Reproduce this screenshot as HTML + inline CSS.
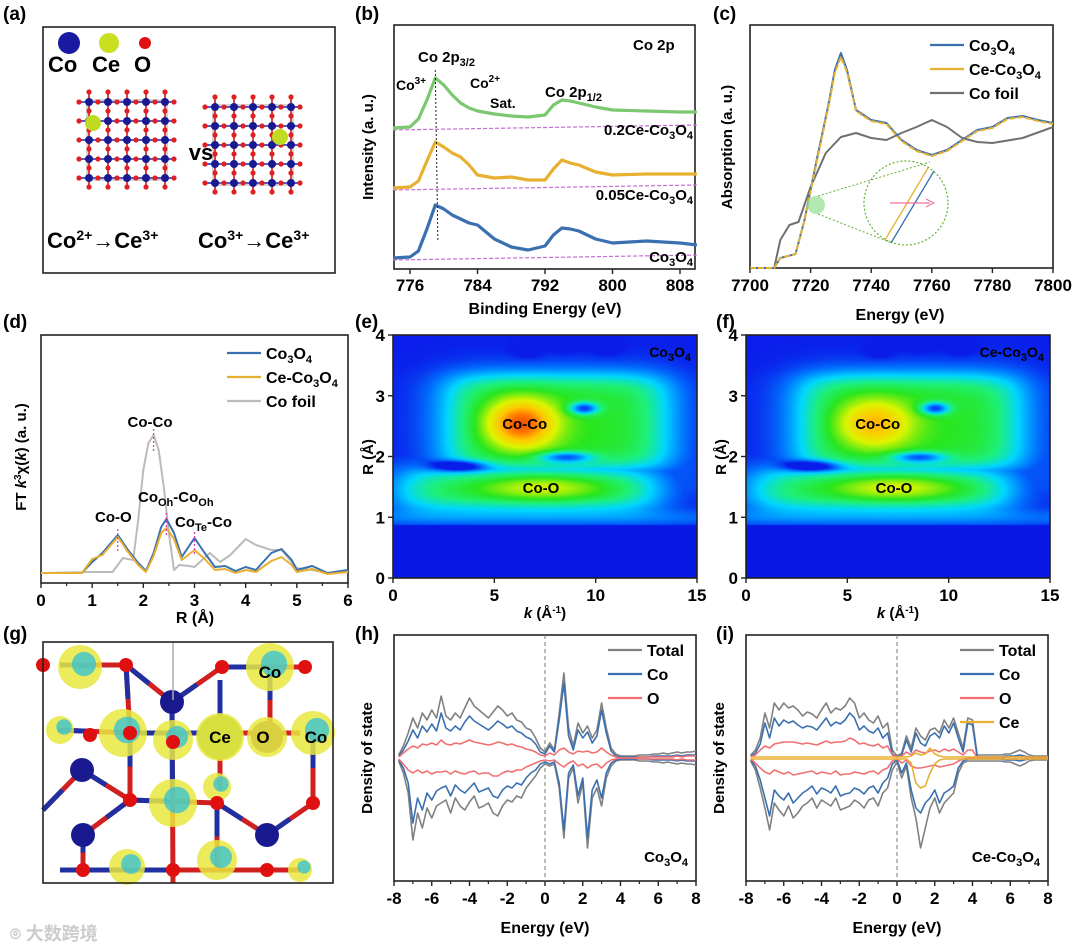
<!DOCTYPE html>
<html><head><meta charset="utf-8"><style>
body{margin:0;background:#fff;}
#wrap{position:relative;width:1080px;height:946px;overflow:hidden;font-family:"Liberation Sans",sans-serif;}
svg{position:absolute;left:0;top:0;}
canvas{position:absolute;}
text{font-family:"Liberation Sans","Noto Sans CJK SC",sans-serif;font-weight:bold;}
</style></head><body>
<div id="wrap">
<canvas id="hmE" width="304" height="243" style="left:393px;top:335px"></canvas>
<canvas id="hmF" width="304" height="243" style="left:746px;top:335px"></canvas>
<svg id="fig" width="1080" height="946" xmlns="http://www.w3.org/2000/svg"></svg>
</div>
<script>
// ---------- DATA ----------
const xpsE=[774,776,777,778,779,780,781,782,783,784,786,788,790,792,793,794,795,796,798,800,804,808,810];
const xpsCo3O4=[11,12,18,40,64,60,54,50,46,44,30,22,19,23,34,41,40,38,30,26,28,26,24];
const xpsCe005=[81,82,88,108,127,122,116,112,104,94,91,92,89,89,100,109,106,104,97,94,95,95,95];
const xpsCe02=[141,142,150,169,191,184,174,166,161,158,155,153,152,154,164,169,168,166,162,159,158,157,157];
const xanE=[7700,7708,7710,7715,7718,7722,7726,7728,7730,7732,7735,7740,7745,7750,7755,7760,7765,7770,7775,7780,7785,7790,7795,7800];
const xanCo3O4=[0,0,10,14,48,108,165,198,215,198,158,148,145,128,118,113,118,128,138,141,150,152,148,145];
const xanCe=[0,0,10,14,47,106,163,195,211,196,157,147,144,127,117,112,117,127,137,140,149,151,147,144];
const foilE=[7700,7708,7710,7713,7716,7720,7725,7730,7735,7740,7745,7750,7755,7760,7765,7770,7775,7780,7790,7800];
const xanFoil=[0,0,28,43,46,81,115,131,135,130,128,135,141,148,141,130,126,125,130,141];
const rBlue=[0,0.8,1.0,1.2,1.5,1.7,1.9,2.05,2.2,2.35,2.45,2.6,2.75,3.0,3.2,3.4,3.6,3.8,4.0,4.2,4.5,4.7,4.9,5.0,5.3,5.6,6];
const ftCo3O4=[10,10,21,30,48,33,20,12,30,56,64,50,26,45,30,16,17,12,16,13,30,34,23,13,17,10,13];
const ftCe=[10,10,24,28,46,31,18,11,27,50,55,44,23,33,24,13,14,10,13,11,22,26,18,11,14,9,11];
const rFoil=[0,1.0,1.4,1.6,1.8,1.9,2.0,2.1,2.2,2.3,2.4,2.5,2.6,2.7,2.9,3.0,3.3,3.5,3.7,4.0,4.2,4.5,4.7,5.0,5.3,5.6,6];
const ftFoil=[10,11,11,25,23,63,113,140,148,133,96,50,13,18,17,16,30,21,28,44,38,33,33,15,13,10,11];
// wavelet plateaus: [k0,k1,R0,R1,amp]; blobs: [k, R, sigmaK, sigmaR, amp]
const wtBoxE=[[2.6,13.5,1.8,3.35,0.38],[0.3,13,1.15,1.8,0.36],[13.5,15,1.3,3.3,0.12]];
const wtE=[[6.3,2.55,1.2,0.28,0.36],[7.3,1.5,2.2,0.16,0.17],[9.4,2.8,0.5,0.07,-0.35],[8.5,2.0,0.9,0.06,-0.28],[3.2,1.85,0.9,0.06,-0.3],[6.6,3.75,0.5,0.09,-0.06],[8.5,3.85,0.5,0.09,-0.06],[10.5,3.8,0.5,0.09,-0.06]];
const wtBoxF=[[2.6,13.5,1.8,3.35,0.38],[0.3,13,1.15,1.8,0.36],[13.5,15,1.3,3.3,0.12]];
const wtF=[[6.3,2.55,1.3,0.28,0.25],[7.3,1.5,2.2,0.16,0.18],[9.3,2.8,0.5,0.07,-0.35],[8.5,2.0,0.9,0.06,-0.28],[3.2,1.85,0.9,0.06,-0.3],[6.6,3.75,0.5,0.09,-0.06],[8.5,3.85,0.5,0.09,-0.06],[10.5,3.8,0.5,0.09,-0.06]];
const dosE=[-7.75,-7.5,-7.25,-7,-6.75,-6.5,-6.25,-6,-5.75,-5.5,-5.25,-5,-4.75,-4.5,-4.25,-4,-3.75,-3.5,-3.25,-3,-2.75,-2.5,-2.25,-2,-1.75,-1.5,-1.25,-1,-0.75,-0.5,-0.25,0,0.25,0.5,0.75,1,1.25,1.5,1.75,2,2.25,2.5,2.75,3,3.25,3.5,3.75,4,4.25,4.5,4.75,5,5.25,5.5,5.75,6,6.25,6.5,6.75,7,7.25,7.5,7.75,8];
const hTotUp=[3,12,25,40,30,45,38,48,40,62,42,38,45,40,50,60,52,48,44,40,46,52,48,42,45,38,36,30,28,20,10,6,15,8,45,85,30,12,35,25,32,20,28,55,30,10,4,2,2,2,2,3,3,3,4,4,5,4,5,6,5,6,6,7];
const hCoUp=[2,8,17,28,20,32,26,34,27,45,30,27,32,28,36,42,37,34,31,28,32,37,34,30,32,27,25,21,19,14,6,4,12,6,38,75,22,8,28,20,26,15,22,48,25,7,2,1,1,1,1,1,1,1,2,2,2,2,2,3,2,3,3,3];
const hOUp=[1,5,9,12,10,14,13,15,13,18,14,13,15,14,16,18,16,15,14,13,14,16,15,13,14,12,11,9,8,6,3,2,5,3,8,10,6,4,7,6,7,5,6,10,6,3,1,0,0,0,0,1,1,1,1,1,1,1,1,2,1,2,2,2];
const hTotDn=[3,15,35,82,55,70,50,60,48,45,42,55,40,48,52,44,38,50,48,45,55,58,48,42,44,38,40,30,24,18,10,6,8,6,30,80,20,10,45,25,90,40,30,48,20,8,3,2,2,2,2,3,3,3,4,4,5,4,5,6,5,6,6,7];
const hCoDn=[2,10,25,65,40,52,35,42,33,30,28,38,27,32,35,30,25,34,32,30,38,40,32,28,30,25,27,20,15,12,6,4,6,4,25,72,15,7,38,20,80,32,22,40,15,5,2,1,1,1,1,1,1,1,2,2,2,2,2,3,2,3,3,3];
const hODn=[1,6,12,15,12,15,13,16,14,14,13,16,13,15,16,14,13,16,15,15,18,18,15,13,14,12,12,9,7,5,3,2,3,2,6,9,5,3,8,6,10,7,6,10,5,2,1,0,0,0,0,1,1,1,1,1,1,1,1,2,1,2,2,2];
const iTotUp=[3,8,20,45,30,55,48,55,50,52,48,42,46,44,40,48,55,45,50,48,52,60,55,40,45,38,35,42,30,35,8,2,5,22,10,30,22,18,28,30,25,38,30,40,25,10,40,38,3,3,3,3,3,3,4,4,6,8,6,3,2,2,2,2];
const iCoUp=[2,5,14,35,20,40,32,38,35,37,33,30,32,31,28,34,40,32,36,34,38,45,40,28,32,27,25,30,20,25,4,1,3,18,6,25,15,12,22,25,20,32,25,35,20,6,35,33,1,1,1,1,1,1,2,2,2,3,2,1,1,1,1,1];
const iOUp=[1,3,8,12,10,14,15,16,16,16,15,14,15,14,13,15,17,15,16,16,17,20,18,14,15,13,12,14,10,12,3,1,2,6,3,8,6,5,7,8,6,9,7,9,6,3,8,8,0,0,0,0,0,0,1,1,1,1,1,0,0,0,0,0];
const iTotDn=[3,12,30,50,72,45,52,58,48,60,55,48,45,40,50,42,45,48,40,52,50,48,42,45,50,42,40,48,35,30,12,4,20,8,40,60,90,70,50,40,55,45,40,35,15,5,3,3,3,3,3,3,3,3,4,4,6,8,6,3,2,2,2,2];
const iCoDn=[2,8,22,40,58,32,38,42,35,45,40,35,32,28,36,30,32,35,28,38,36,35,30,32,36,30,28,35,25,20,6,2,15,5,32,50,55,45,40,32,45,35,32,28,10,3,1,1,1,1,1,1,1,1,2,2,2,3,2,1,1,1,1,1];
const iODn=[1,5,10,14,16,12,14,16,14,17,16,15,14,13,16,14,15,16,13,17,16,16,14,15,16,14,13,16,12,10,3,1,5,2,8,10,10,9,8,7,9,8,7,6,3,1,0,0,0,0,0,0,0,0,1,1,1,1,1,0,0,0,0,0];
const iCeUp=[1,1,1,1,1,1,1,1,1,1,1,1,1,1,1,1,1,1,1,1,1,1,1,1,1,1,1,1,1,1,1,1,1,1,2,5,3,4,10,4,2,1,1,1,1,1,1,1,1,1,1,1,1,1,1,1,1,1,1,1,1,1,1,1];
const iCeDn=[1,1,1,1,1,1,1,1,1,1,1,1,1,1,1,1,1,1,1,1,1,1,1,1,1,1,1,1,1,1,1,1,1,1,5,25,30,28,15,6,2,1,1,1,1,1,1,1,1,1,1,1,1,1,1,1,1,1,1,1,1,1,1,1];
const xpsTicks=[776,784,792,800,808], xanTicks=[7700,7720,7740,7760,7780,7800], ftTicks=[0,1,2,3,4,5,6], kTicks=[0,5,10,15], rTicks=[0,1,2,3,4], dosTicks=[-8,-6,-4,-2,0,2,4,6,8];

// ---------- HELPERS ----------
const NS="http://www.w3.org/2000/svg", svg=document.getElementById('fig');
function el(tag,attrs,parent){const e=document.createElementNS(NS,tag);for(const k in attrs)e.setAttribute(k,attrs[k]);(parent||svg).appendChild(e);return e;}
function scale(d0,d1,r0,r1){return v=>r0+(v-d0)*(r1-r0)/(d1-d0);}
function txt(x,y,s,size,name,anchor,extra){const t=el('text',Object.assign({x:x,y:y,'font-size':size||15,'text-anchor':anchor||'start'},extra||{}));t.innerHTML=s;return t;}
function line(xs,ys,sx,sy,color,w,name,dash){const d=xs.map((v,i)=>(i?'L':'M')+sx(v).toFixed(1)+' '+sy(ys[i]).toFixed(1)).join('');const p=el('path',{d:d,fill:'none',stroke:color,'stroke-width':w,'stroke-linejoin':'round'});if(dash)p.setAttribute('stroke-dasharray',dash);return p;}
function frame(x0,y0,x1,y1,name){const r=el('rect',{x:x0,y:y0,width:x1-x0,height:y1-y0,fill:'none',stroke:'#222','stroke-width':1.6});}
function xticks(ticks,sx,y,name,minor,off){ticks.forEach((t,i)=>{el('line',{x1:sx(t),x2:sx(t),y1:y,y2:y+5,stroke:'#222','stroke-width':1.4});txt(sx(t),y+(off||23),String(t),17,name+'-tick-label','middle');if(minor&&i<ticks.length-1){const m=(t+ticks[i+1])/2;el('line',{x1:sx(m),x2:sx(m),y1:y,y2:y+3,stroke:'#222','stroke-width':1.2});}});}
function ylabel(x,y,s,name){txt(x,y,s,15,name,'middle',{transform:`rotate(-90 ${x} ${y})`});}
function legend(x,y,items,name){items.forEach((it,i)=>{const l=el('line',{x1:x,x2:x+34,y1:y+i*24,y2:y+i*24,stroke:it[1],'stroke-width':2.2});txt(x+39,y+i*24+6,it[0],16,name+'-label');});}
const sub=s=>`<tspan dy="4" font-size="11">${s}</tspan><tspan dy="-4">`;
const co3o4=`Co${sub('3')}O${sub('4')}</tspan>`;

[['(a)',3,20],['(b)',355,20],['(c)',713,20],['(d)',3,328],['(e)',355,328],['(f)',716,328],['(g)',3,640],['(h)',355,640],['(i)',716,640]].forEach(p=>txt(p[1],p[2],p[0],19,'panel-label'));

// ---------- (a) ----------
frame(43,27,335,273,'panel-a-box');
[[69,43,11,'#1a1aa0'],[109,43,10,'#c8e020'],[145,43,6,'#e01010']].forEach(c=>{const a=el('circle',{cx:c[0],cy:c[1],r:c[2],fill:c[3]});});
txt(48,72,'Co',22,'legend-co');txt(92,72,'Ce',22,'legend-ce');txt(134,72,'O',22,'legend-o');
function lattice(cx,cy,ceX,ceY){const g=el('g',{});
 el('rect',{x:cx-40,y:cy-40,width:80,height:80,fill:'none',stroke:'#aaa','stroke-width':1},g);
 const s=19;
 for(let i=0;i<5;i++){const px=cx-38+i*s, py=cy-38+i*s;el('line',{x1:px,x2:px,y1:cy-48,y2:cy+48,stroke:'#d03030','stroke-width':1.8},g);el('line',{x1:cx-48,x2:cx+48,y1:py,y2:py,stroke:'#4040c0','stroke-width':1.8},g);}
 for(let i=0;i<5;i++)for(let j=0;j<5;j++){const x=cx-38+i*s,y=cy-38+j*s;el('circle',{cx:x,cy:y,r:4,fill:'#1a1a90'},g);el('circle',{cx:x+9,cy:y,r:2.6,fill:'#e02020'},g);el('circle',{cx:x,cy:y+9,r:2.6,fill:'#e02020'},g);}
 for(let i=0;i<5;i++){el('circle',{cx:cx-48,cy:cy-38+i*s,r:2.6,fill:'#e02020'},g);el('circle',{cx:cx-38+i*s,cy:cy-48,r:2.6,fill:'#e02020'},g);}
 el('circle',{cx:ceX,cy:ceY,r:8,fill:'#c0dc20'},g);}
lattice(127,140,93,123);lattice(253,145,280,137);
txt(201,160,'vs',22,'vs-label','middle');
txt(47,248,'Co<tspan dy="-8" font-size="14">2+</tspan><tspan dy="8" font-weight="normal">→</tspan>Ce<tspan dy="-8" font-size="14">3+</tspan>',22,'co2-to-ce3');
txt(198,248,'Co<tspan dy="-8" font-size="14">3+</tspan><tspan dy="8" font-weight="normal">→</tspan>Ce<tspan dy="-8" font-size="14">3+</tspan>',22,'co3-to-ce3');

// ---------- (b) XPS ----------
{const sx=scale(776,808,410,680), sy=scale(0,244,269,25);
 frame(394,25,695,269,'xps-frame');
 [[xpsCo3O4,'#3a6fb0'],[xpsCe005,'#e8b030'],[xpsCe02,'#7cc870']].forEach((s,i)=>{
  line([774,810],[s[0][0]-2,s[0][0]+3],sx,sy,'#c070d0',1.2,'xps-background','4 2');
  line(xpsE,s[0],sx,sy,s[1],3.2,'xps-curve-'+i);});
 el('line',{x1:sx(779),x2:sx(779.3),y1:70,y2:240,stroke:'#222','stroke-width':1,'stroke-dasharray':'2 2'});
 xticks(xpsTicks,sx,269,'xps',false,22);
 txt(545,314,'Binding Energy (eV)',16,'xps-x-title','middle');ylabel(373,147,'Intensity (a. u.)','xps-y-title');
 txt(633,50,'Co 2p',15,'xps-co2p');txt(418,62,'Co 2p<tspan dy="4" font-size="11">3/2</tspan>',15,'label-co2p32');
 txt(396,90,'Co<tspan dy="-6" font-size="10">3+</tspan>',14,'label-co3plus');txt(470,88,'Co<tspan dy="-6" font-size="10">2+</tspan>',14,'label-co2plus');
 txt(490,108,'Sat.',14,'label-sat');txt(545,97,'Co 2p<tspan dy="4" font-size="11">1/2</tspan>',15,'label-co2p12');
 txt(693,135,'0.2Ce-'+co3o4,15,'label-02ce','end');txt(693,200,'0.05Ce-'+co3o4,15,'label-005ce','end');txt(693,262,co3o4,15,'label-co3o4-b','end');}

// ---------- (c) XANES ----------
{const sx=scale(7700,7800,750,1053), sy=scale(0,243,268,25);
 frame(750,25,1053,268,'xanes-frame');
 line(foilE,xanFoil,sx,sy,'#707070',2,'xanes-co-foil');
 line(xanE,xanCo3O4,sx,sy,'#3a6fb0',2,'xanes-co3o4');
 line(xanE,xanCe,sx,sy,'#e8b030',2,'xanes-ce-co3o4','6 2');
 el('circle',{cx:816,cy:205,r:9,fill:'#90e090',opacity:0.7});
 el('circle',{cx:906,cy:203,r:42,fill:'none',stroke:'#60b030','stroke-width':1.2,'stroke-dasharray':'2 2'});
 el('line',{x1:818,y1:196,x2:930,y2:162,stroke:'#60b030','stroke-dasharray':'2 2'});el('line',{x1:818,y1:214,x2:892,y2:243,stroke:'#60b030','stroke-dasharray':'2 2'});
 el('line',{x1:885,y1:240,x2:928,y2:168,stroke:'#e8b030','stroke-width':1.3});el('line',{x1:891,y1:243,x2:934,y2:171,stroke:'#3a6fb0','stroke-width':1.3});
 el('line',{x1:890,y1:203,x2:930,y2:203,stroke:'#f070a0','stroke-width':1.3});el('path',{d:'M926 199 L934 203 L926 207',fill:'none',stroke:'#f070a0'});
 xticks(xanTicks,sx,268,'xanes');
 txt(900,320,'Energy (eV)',16,'xanes-x-title','middle');ylabel(732,147,'Absorption (a. u.)','xanes-y-title');
 legend(930,45,[[co3o4,'#3a6fb0'],['Ce-'+co3o4,'#e8b030'],['Co foil','#707070']],'xanes-legend');}

// ---------- (d) EXAFS ----------
{const sx=scale(0,6,41,348), sy=scale(0,248,583,335);
 frame(41,335,348,583,'exafs-frame');
 line(rFoil,ftFoil,sx,sy,'#bbbbbb',2,'ft-co-foil');
 line(rBlue,ftCo3O4,sx,sy,'#3a6fb0',2,'ft-co3o4');
 line(rBlue,ftCe,sx,sy,'#e8b030',2,'ft-ce-co3o4');
 [[1.5,48],[2.2,148],[2.45,64],[3.0,45]].forEach(p=>el('line',{x1:sx(p[0]),x2:sx(p[0]),y1:sy(p[1]+6),y2:sy(p[1]-16),stroke:'#e040c0','stroke-width':1.3,'stroke-dasharray':'2 2'}));
 xticks(ftTicks,sx,583,'exafs',true);
 txt(195,623,'R (Å)',16,'exafs-x-title','middle');ylabel(26,457,'FT <tspan font-style="italic">k</tspan><tspan dy="-5" font-size="10">3</tspan><tspan dy="5">χ(</tspan><tspan font-style="italic">k</tspan>) (a. u.)','exafs-y-title');
 txt(150,427,'Co-Co',15,'label-co-co','middle');txt(95,522,'Co-O',15,'label-co-o');
 txt(138,502,'Co<tspan dy="4" font-size="11">Oh</tspan><tspan dy="-4">-Co</tspan><tspan dy="4" font-size="11">Oh</tspan>',15,'label-cooh');
 txt(175,527,'Co<tspan dy="4" font-size="11">Te</tspan><tspan dy="-4">-Co</tspan>',15,'label-cote');
 legend(227,353,[[co3o4,'#3a6fb0'],['Ce-'+co3o4,'#e8b030'],['Co foil','#bbbbbb']],'exafs-legend');}

// ---------- (e)(f) wavelet ----------
const cmapStops=[[0,0,0,200],[0.12,10,30,235],[0.22,0,120,255],[0.32,0,215,255],[0.42,30,240,120],[0.5,40,230,30],[0.62,220,245,0],[0.72,255,200,0],[0.82,255,110,0],[0.95,215,25,0],[1.2,180,0,0]];
function cmap(v){for(let i=1;i<cmapStops.length;i++){const a=cmapStops[i-1],b=cmapStops[i];if(v<=b[0]||i==cmapStops.length-1){const t=Math.max(0,Math.min(1,(v-a[0])/(b[0]-a[0])));return [a[1]+(b[1]-a[1])*t,a[2]+(b[2]-a[2])*t,a[3]+(b[3]-a[3])*t];}}}
function drawWT(id,boxes,blobs){const c=document.getElementById(id),ctx=c.getContext('2d'),W=c.width,H=c.height,img=ctx.createImageData(W,H);
 const sg=x=>1/(1+Math.exp(-x));
 for(let py=0;py<H;py++){const R=4-py/H*4;for(let px=0;px<W;px++){const k=px/W*15;let v=0.12;
  if(R>0.88){let bx=0;boxes.forEach(b=>{bx=Math.max(bx,b[4]*sg((k-b[0])/0.8)*sg((b[1]-k)/0.8)*sg((R-b[2])/0.1)*sg((b[3]-R)/0.12));});v+=bx;
   blobs.forEach(b=>{v+=b[4]*Math.exp(-((k-b[0])**2)/(2*b[2]**2)-((R-b[1])**2)/(2*b[3]**2));});
   v+=0.08*Math.exp(-((R-1.0)**2)/0.02);v=Math.max(v,0.11);}else v=0.1;
  const col=cmap(v),i=(py*W+px)*4;img.data[i]=col[0];img.data[i+1]=col[1];img.data[i+2]=col[2];img.data[i+3]=255;}}
 ctx.putImageData(img,0,0);}
drawWT('hmE',wtBoxE,wtE);drawWT('hmF',wtBoxF,wtF);
[[393,'e',co3o4],[746,'f','Ce-'+co3o4]].forEach(p=>{const x0=p[0],sx=scale(0,15,x0,x0+304),sy=scale(0,4,578,335);
 frame(x0,335,x0+304,578,'wavelet-frame-'+p[1]);
 xticks(kTicks,sx,578,'wavelet-'+p[1]);
 rTicks.forEach(t=>{el('line',{x1:x0-5,x2:x0,y1:sy(t),y2:sy(t),stroke:'#222','stroke-width':1.4});txt(x0-8,sy(t)+6,String(t),17,'wavelet-r-tick','end');});
 txt(sx(7.5),618,'<tspan font-style="italic">k</tspan> (Å<tspan dy="-5" font-size="10">-1</tspan><tspan dy="5">)</tspan>',15,'wavelet-x-title','middle');
 ylabel(x0-20,457,'R (Å)','wavelet-y-title');
 txt(sx(6.5),sy(2.55)+6,'Co-Co',15,'wavelet-co-co','middle');txt(sx(7.3),sy(1.5)+6,'Co-O',15,'wavelet-co-o','middle');
 txt(x0+298,357,p[2],14,'wavelet-sample','end');});

// ---------- (g) ----------
{const g=el('g',{});
 el('rect',{x:43,y:642,width:290,height:241,fill:'#fff'},g);
 const bonds=[[60,665,126,665],[126,665,172,702],[172,702,222,667],[222,667,305,667],[58,730,130,733],[130,733,300,733],[172,702,173,883],[126,665,130,733],[130,733,130,800],[82,770,130,800],[130,800,83,835],[130,800,217,803],[217,803,267,835],[267,835,313,803],[313,733,313,803],[270,667,270,733],[220,680,220,790],[83,835,83,870],[43,810,82,770],[60,870,300,870],[217,803,217,870]];
 bonds.forEach(b=>{el('line',{x1:b[0],y1:b[1],x2:b[2],y2:b[3],stroke:'#d02020','stroke-width':5},g);el('line',{x1:b[0],y1:b[1],x2:(b[0]+b[2])/2,y2:(b[1]+b[3])/2,stroke:'#2030a0','stroke-width':5},g);});
 [[80,667,22],[270,667,24],[123,733,24],[173,740,20],[220,737,24],[267,737,20],[313,733,22],[173,803,24],[217,787,14],[127,867,18],[217,860,20],[60,730,14],[300,870,12]].forEach(b=>{el('circle',{cx:b[0],cy:b[1],r:b[2],fill:'#e8e840',opacity:0.85},g);el('circle',{cx:b[0]+4,cy:b[1]-3,r:b[2]*0.55,fill:'#30c0d8',opacity:0.75},g);});
 el('circle',{cx:220,cy:737,r:22,fill:'#d8e040'},g);el('circle',{cx:267,cy:737,r:16,fill:'#d8d040'},g);
 [[172,702,12],[82,770,12],[83,835,12],[267,835,12]].forEach(a=>el('circle',{cx:a[0],cy:a[1],r:a[2],fill:'#1a1a90'},g));
 [[126,665,7],[222,667,7],[305,667,7],[130,733,7],[90,735,7],[173,742,7],[130,800,7],[217,803,7],[313,803,7],[83,870,7],[173,870,7],[267,870,7],[43,665,7]].forEach(a=>el('circle',{cx:a[0],cy:a[1],r:a[2],fill:'#e01010'},g));
 el('line',{x1:173,y1:642,x2:173,y2:700,stroke:'#aaa','stroke-width':1.5},g);
 frame(43,642,333,883,'panel-g-frame');
 txt(270,678,'Co',17,'g-label-co-top','middle');txt(220,743,'Ce',17,'g-label-ce','middle');txt(263,743,'O',17,'g-label-o','middle');txt(316,743,'Co',17,'g-label-co-right','middle');
 txt(10,940,'⌾ 大数跨境',18,'watermark',null,{fill:'#cccccc','font-weight':'normal'});}

// ---------- (h)(i) DOS ----------
function dos(x0,x1,series,sample,legendItems,p){const sx=scale(-8,8,x0,x1),sy=scale(-123,123,881,635);
 frame(x0,635,x1,881,'dos-frame-'+p);
 el('line',{x1:sx(0),x2:sx(0),y1:635,y2:881,stroke:'#777','stroke-width':1,'stroke-dasharray':'4 3'});
 series.forEach(s=>{line(dosE,s[0],sx,sy,s[2],1.6,'dos-'+p+'-'+s[3]+'-up');line(dosE,s[1].map(v=>-v),sx,sy,s[2],1.6,'dos-'+p+'-'+s[3]+'-down');});
 xticks(dosTicks,sx,881,'dos-'+p,true);
 txt((x0+x1)/2,933,'Energy (eV)',16,'dos-x-title-'+p,'middle');ylabel(x0-22,758,'Density of state','dos-y-title-'+p);
 txt(x1-8,862,sample,15,'dos-sample-'+p,'end');
 legend(x1-88,650,legendItems,'dos-legend-'+p);}
dos(394,696,[[hTotUp,hTotDn,'#808080','total'],[hCoUp,hCoDn,'#3a6fb0','co'],[hOUp,hODn,'#f07070','o']],co3o4,[['Total','#808080'],['Co','#3a6fb0'],['O','#f07070']],'h');
dos(746,1048,[[iTotUp,iTotDn,'#808080','total'],[iCoUp,iCoDn,'#3a6fb0','co'],[iOUp,iODn,'#f07070','o'],[iCeUp,iCeDn,'#e8b030','ce']],'Ce-'+co3o4,[['Total','#808080'],['Co','#3a6fb0'],['O','#f07070'],['Ce','#e8b030']],'i');
</script>
</body></html>
